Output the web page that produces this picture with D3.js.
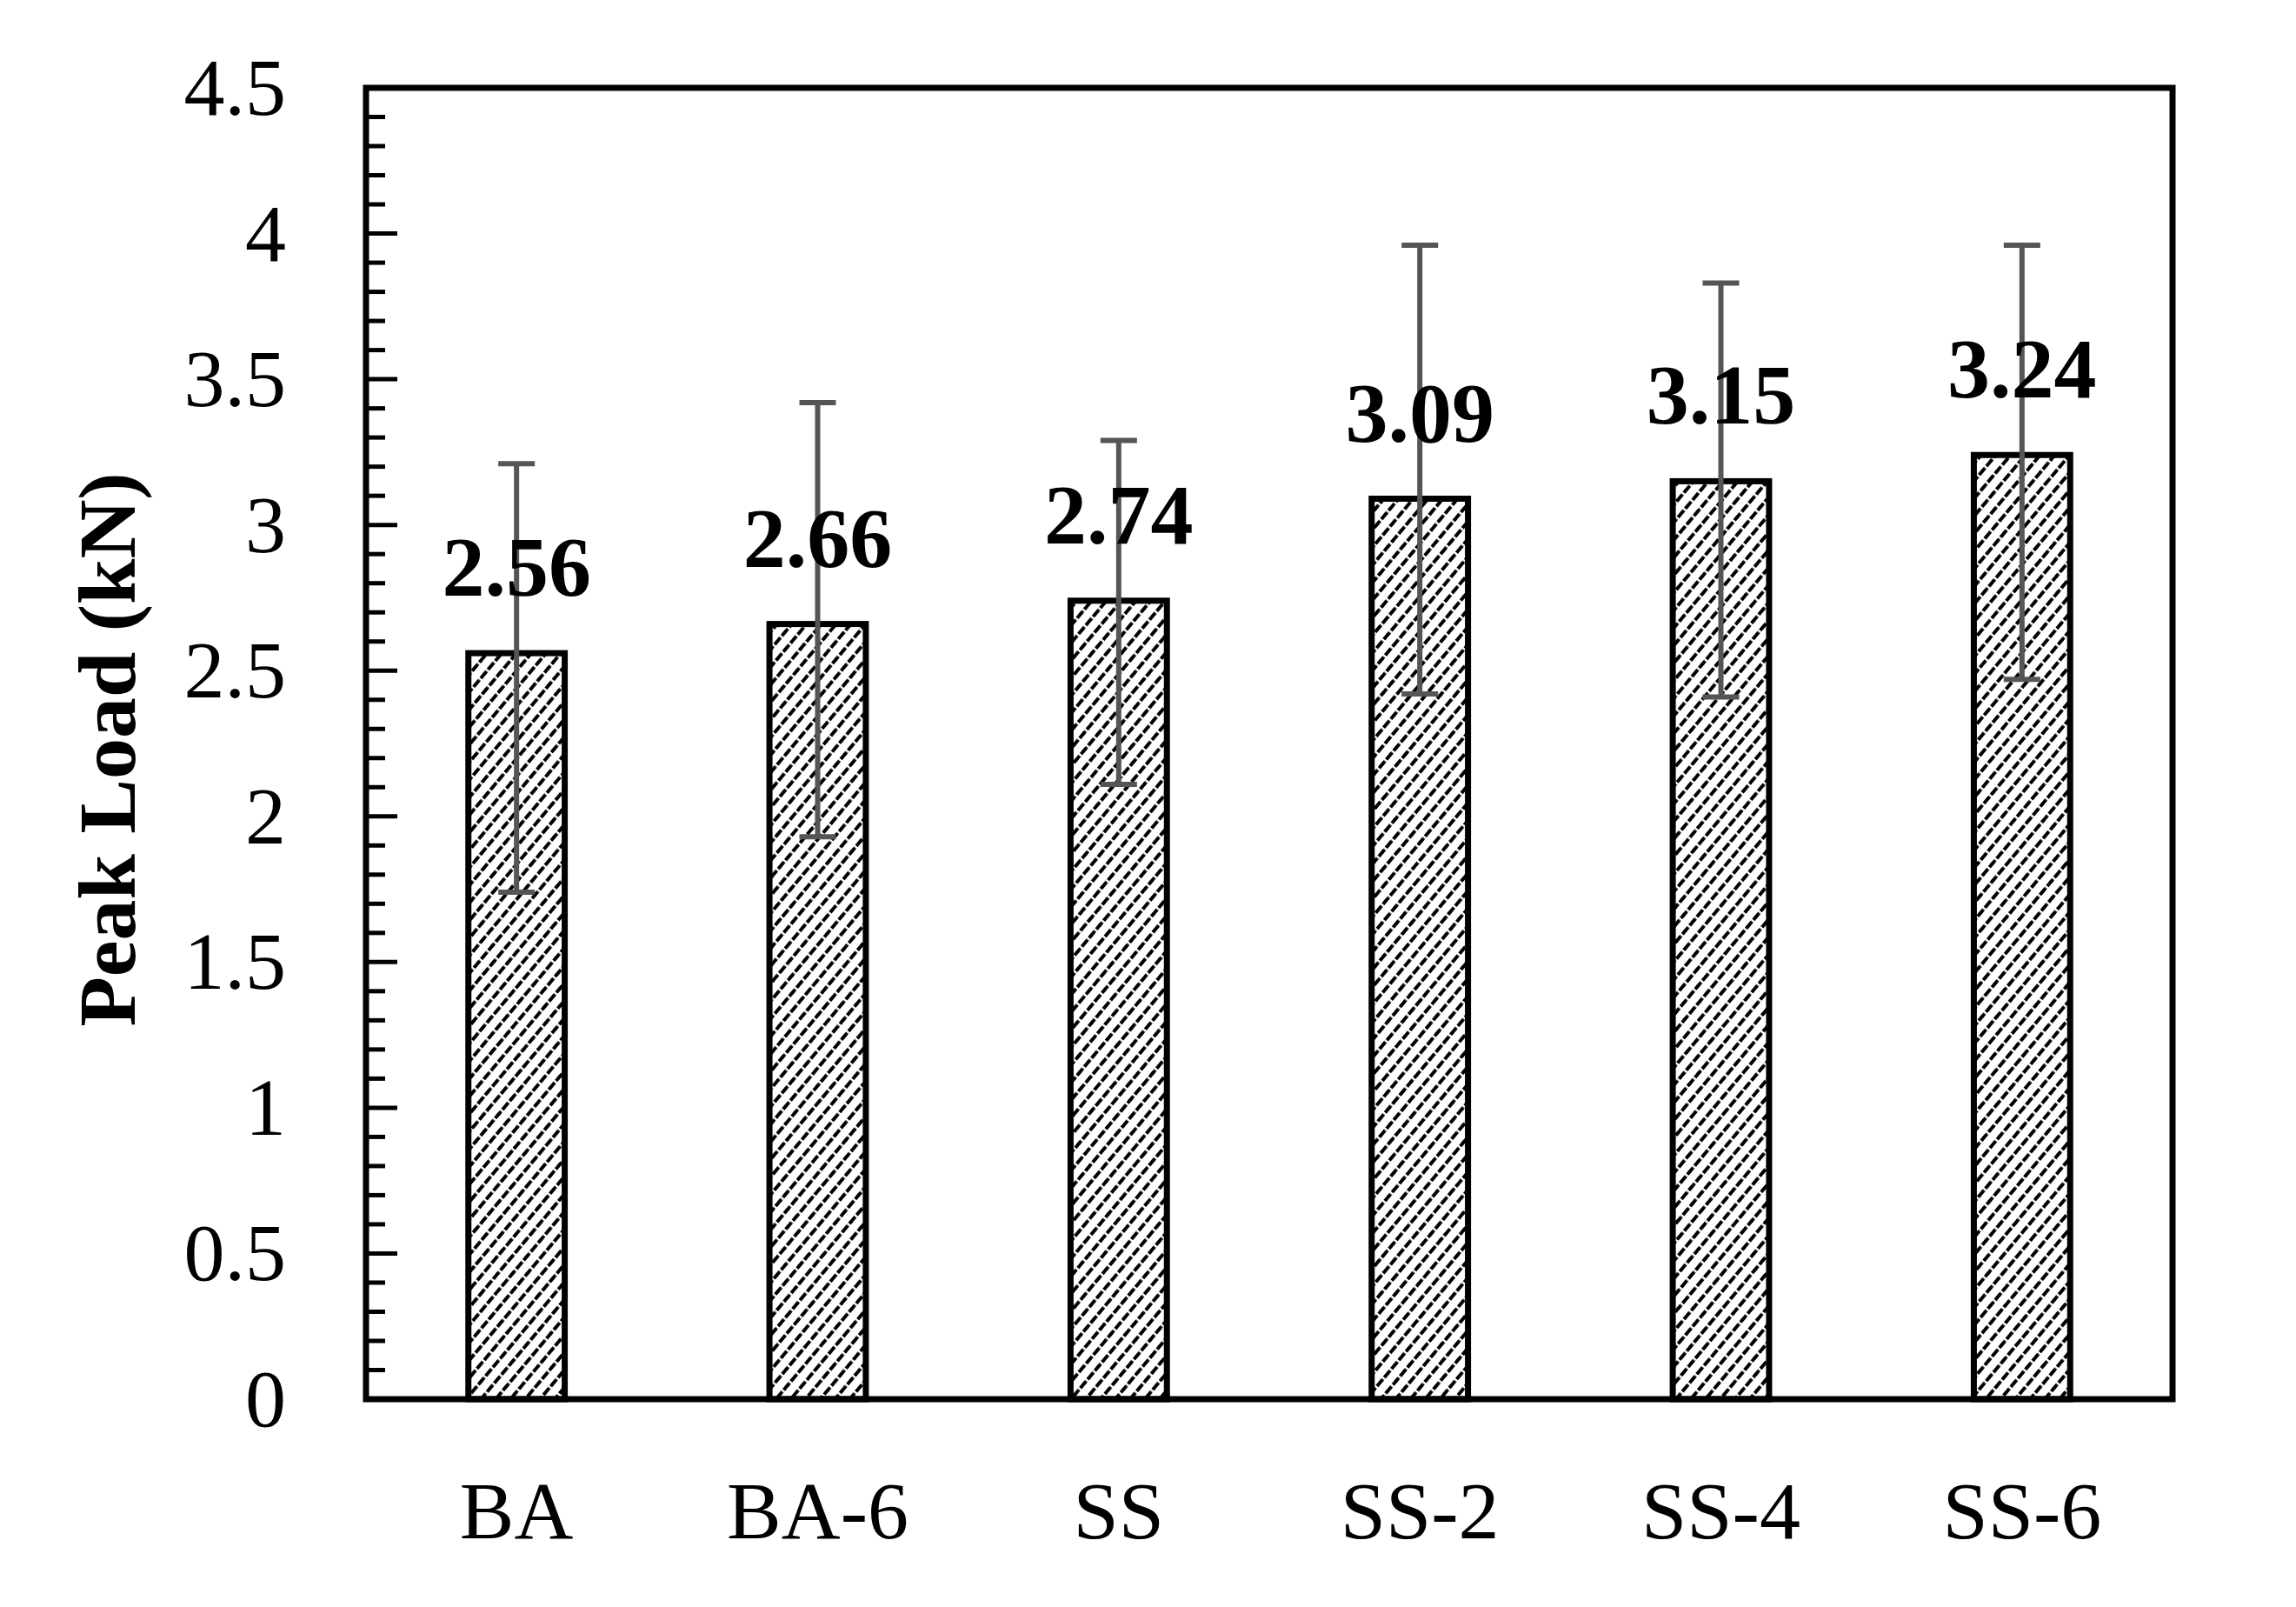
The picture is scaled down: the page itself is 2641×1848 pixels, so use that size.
<!DOCTYPE html>
<html><head><meta charset="utf-8">
<script src="https://cdn.jsdelivr.net/npm/d3@7"></script>
<style>body{margin:0;background:#fff}</style></head>
<body><svg id="c" width="2641" height="1848"></svg>
<script>
const categories = ["BA","BA-6","SS","SS-2","SS-4","SS-6"];
const values = [2.56,2.66,2.74,3.09,3.15,3.24];
const errUpper = [3.21,3.42,3.29,3.96,3.83,3.96];
const errLower = [1.74,1.93,2.11,2.42,2.41,2.47];
const yTicks = [0,0.5,1,1.5,2,2.5,3,3.5,4,4.5];
const yTickLabels = ["0","0.5","1","1.5","2","2.5","3","3.5","4","4.5"];

const svg = d3.select("#c");
const L=421,R=2499,T=101,B=1609;
const font="'Liberation Serif','Times New Roman',serif";
const x = d3.scaleBand().domain(categories).range([L,R]).paddingInner(0.68).paddingOuter(0.34);
const y = d3.scaleLinear().domain([0,4.5]).range([B,T]);

const defs=svg.append("defs");
const pat=defs.append("pattern").attr("id","hatch").attr("patternUnits","userSpaceOnUse")
 .attr("width",13).attr("height",13).attr("patternTransform","rotate(40)");
pat.append("rect").attr("width",13).attr("height",13).attr("fill","#fff");
pat.append("line").attr("x1",2).attr("y1",0).attr("x2",2).attr("y2",13)
 .attr("stroke","#000").attr("stroke-width",4).attr("stroke-dasharray","8,2.5");

const minor=d3.range(0,45).map(i=>i/10);
svg.append("g").selectAll("line").data(minor).join("line")
 .attr("x1",L).attr("x2",d=>Math.abs(d*2-Math.round(d*2))<1e-6?L+36:L+22)
 .attr("y1",d=>y(d)).attr("y2",d=>y(d)).attr("stroke","#000").attr("stroke-width",5);

svg.append("g").selectAll("rect").data(values).join("rect")
 .attr("x",(d,i)=>x(categories[i])).attr("width",x.bandwidth())
 .attr("y",d=>y(d)).attr("height",d=>B-y(d))
 .attr("fill","url(#hatch)").attr("stroke","#000").attr("stroke-width",7);

const eg=svg.append("g").attr("stroke","#555").attr("stroke-width",6);
categories.forEach((c,i)=>{
 const cx=x(c)+x.bandwidth()/2;
 eg.append("line").attr("x1",cx).attr("x2",cx).attr("y1",y(errUpper[i])).attr("y2",y(errLower[i]));
 [errUpper[i],errLower[i]].forEach(v=>eg.append("line").attr("x1",cx-21).attr("x2",cx+21).attr("y1",y(v)).attr("y2",y(v)));
});

svg.append("g").selectAll("text").data(values).join("text")
 .attr("x",(d,i)=>x(categories[i])+x.bandwidth()/2).attr("y",d=>y(d)-66)
 .attr("text-anchor","middle").attr("font-family",font).attr("font-weight","bold")
 .attr("font-size",98).text(d=>d.toFixed(2));

svg.append("rect").attr("x",L).attr("y",T).attr("width",R-L).attr("height",B-T)
 .attr("fill","none").attr("stroke","#000").attr("stroke-width",7);

svg.append("g").selectAll("text").data(yTicks).join("text")
 .attr("x",329).attr("y",d=>y(d)+31).attr("text-anchor","end")
 .attr("font-family",font).attr("font-size",94).text((d,i)=>yTickLabels[i]);

svg.append("g").selectAll("text").data(categories).join("text")
 .attr("x",d=>x(d)+x.bandwidth()/2).attr("y",1769).attr("text-anchor","middle")
 .attr("font-family",font).attr("font-size",94).text(d=>d);

svg.append("text").attr("transform","translate(155,862) rotate(-90)")
 .attr("text-anchor","middle").attr("font-family",font).attr("font-weight","bold")
 .attr("font-size",94).text("Peak Load (kN)");
</script></body></html>
